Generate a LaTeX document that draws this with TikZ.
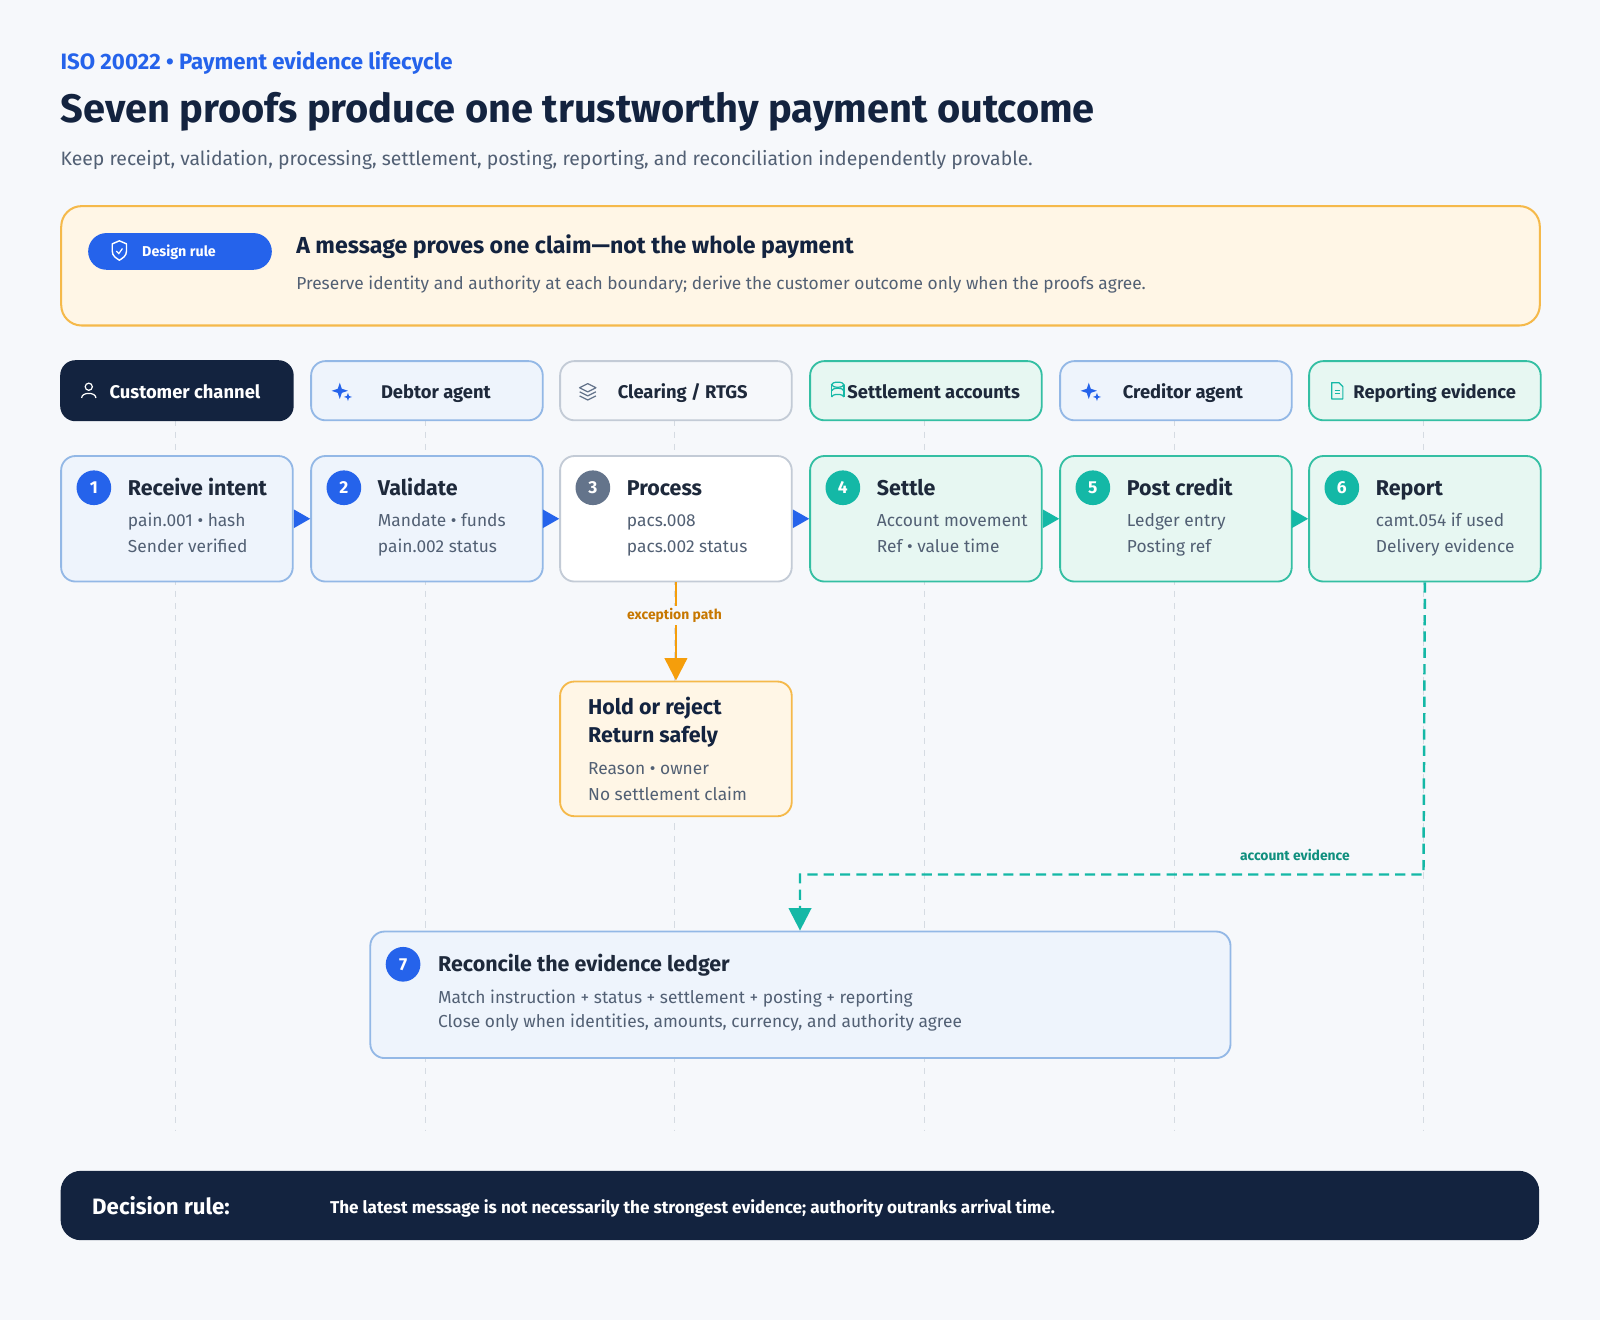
\documentclass[tikz,border=0pt]{standalone}
\usepackage{fontspec}
\setmainfont{Fira Sans}
\usetikzlibrary{arrows.meta,shapes.geometric}
\definecolor{navy}{HTML}{13233F}
\definecolor{ink}{HTML}{1E293B}
\definecolor{muted}{HTML}{526074}
\definecolor{blueA}{HTML}{2563EB}
\definecolor{blueF}{HTML}{EEF4FC}
\definecolor{blueB}{HTML}{93B8E6}
\definecolor{grayB}{HTML}{C3CBD6}
\definecolor{grayC}{HTML}{64748B}
\definecolor{tealF}{HTML}{E7F7F2}
\definecolor{tealB}{HTML}{34BFA3}
\definecolor{tealA}{HTML}{14B8A6}
\definecolor{tealD}{HTML}{0F8F7E}
\definecolor{amberF}{HTML}{FFF6E6}
\definecolor{amberB}{HTML}{F5B94A}
\definecolor{amberA}{HTML}{F59E0B}
\definecolor{amberT}{HTML}{C77700}
\definecolor{bg}{HTML}{F6F8FB}
\tikzset{x=0.5pt,y=-0.5pt,every node/.style={inner sep=0},
 box/.style={draw,rounded corners=7pt,line width=0.9pt,anchor=north west,minimum width=113.5pt,inner sep=0},
 hdr/.style={box,minimum height=29pt},
 stepbox/.style={box,minimum height=61.5pt},
 bluebox/.style={fill=blueF,draw=blueB},
 graybox/.style={fill=white,draw=grayB},
 tealbox/.style={fill=tealF,draw=tealB},
 hdrtxt/.style={font=\bfseries\fontsize{9}{11}\selectfont,text=ink,anchor=base west},
 num/.style={circle,minimum size=17pt,inner sep=0,text=white,font=\bfseries\fontsize{8.5}{10}\selectfont},
 sttl/.style={font=\bfseries\fontsize{10.5}{12}\selectfont,text=ink,anchor=base west},
 sl/.style={font=\fontsize{8.5}{10}\selectfont,text=muted,anchor=base west},
 lane/.style={draw=grayB!70,dash pattern=on 3pt off 3pt,line width=0.6pt},
 tip/.style={-{Triangle[length=8pt,width=9pt]},line width=0.5pt},
}
\begin{document}
\begin{tikzpicture}
\fill[bg] (0,0) rectangle (1568,1294);
\useasboundingbox (0,0) rectangle (1568,1294);
% titles
\node[anchor=west,text=blueA,font=\bfseries\fontsize{10.9}{13}\selectfont] (kicker) at (59,62) {ISO 20022 • Payment evidence lifecycle};
\node[anchor=west,text=navy,font=\bfseries\fontsize{19.5}{23}\selectfont] (title) at (59,110) {Seven proofs produce one trustworthy payment outcome};
\node[anchor=west,text=muted,font=\fontsize{9.5}{11}\selectfont] (sub) at (59,157) {Keep receipt, validation, processing, settlement, posting, reporting, and reconciliation independently provable.};
% design rule
\node[draw=amberB,fill=amberF,line width=1pt,rounded corners=10pt,anchor=north west,minimum width=724.5pt,minimum height=58.5pt,inner sep=0] (rule) at (59,201) {};
\node[fill=blueA,rounded corners=9pt,anchor=north west,minimum width=90pt,minimum height=18pt,inner sep=0] (pill) at (86,228) {};
\node[anchor=west,text=white,font=\bfseries\fontsize{7}{8}\selectfont] (pilltxt) at (139,247) {Design rule};
\draw[white,line width=0.7pt,line join=round] (110,239) -- (117,236) -- (124,239) -- (124,246) .. controls (124,251) and (120,253) .. (117,255) .. controls (114,253) and (110,251) .. (110,246) -- cycle;
\draw[white,line width=0.6pt] (114,246) -- (116.5,248.5) -- (120,243.5);
\node[anchor=west,text=navy,font=\bfseries\fontsize{11.35}{13}\selectfont] (ruleh) at (290,242) {A message proves one claim—not the whole payment};
\node[anchor=west,text=muted,font=\fontsize{8.5}{10}\selectfont] (rulet) at (290,279) {Preserve identity and authority at each boundary; derive the customer outcome only when the proofs agree.};
% lanes
\foreach \i/\cx in {1/172,2/417,3/661,4/906,5/1151,6/1395}{\draw[lane] (\cx,411) -- (\cx,1108);}
% headers
\node[hdr,fill=navy,draw=navy] (h1) at (59,353) {};
\node[hdr,bluebox] (h2) at (304,353) {};
\node[hdr,graybox,fill=bg] (h3) at (548,353) {};
\node[hdr,tealbox] (h4) at (793,353) {};
\node[hdr,bluebox] (h5) at (1038,353) {};
\node[hdr,tealbox] (h6) at (1282,353) {};
\node[hdrtxt,text=white] (h1t) at (107,390.5) {Customer channel};
\node[hdrtxt] (h2t) at (373,390.5) {Debtor agent};
\node[hdrtxt] (h3t) at (605,390.5) {Clearing / RTGS};
\node[hdrtxt] (h4t) at (830,390.5) {Settlement accounts};
\node[hdrtxt] (h5t) at (1100,390.5) {Creditor agent};
\node[hdrtxt] (h6t) at (1326,390.5) {Reporting evidence};
% icons
\draw[white,line width=0.6pt] (87,379) circle (3.5);
\draw[white,line width=0.6pt] (80,390) .. controls (80,384) and (94,384) .. (94,390);
\foreach \ix in {333,1067}{
 \fill[blueA] (\ix,375) -- (\ix+2,381) -- (\ix+8,383) -- (\ix+2,385) -- (\ix,391) -- (\ix-2,385) -- (\ix-8,383) -- (\ix-2,381) -- cycle;
 \fill[blueA] (\ix+8,385) -- (\ix+9,388) -- (\ix+12,389) -- (\ix+9,390) -- (\ix+8,393) -- (\ix+7,390) -- (\ix+4,389) -- (\ix+7,388) -- cycle;}
\draw[grayC,line width=0.6pt,line join=round] (576,376) -- (584,380) -- (576,384) -- (568,380) -- cycle;
\draw[grayC,line width=0.6pt,line join=round] (568,384) -- (576,388) -- (584,384);
\draw[grayC,line width=0.6pt,line join=round] (568,388) -- (576,392) -- (584,388);
\draw[tealA,line width=0.6pt] (821,377) ellipse (6 and 2.5);
\draw[tealA,line width=0.6pt] (815,377) -- (815,389) (827,377) -- (827,389);
\draw[tealA,line width=0.6pt] (815,383) arc (180:360:6 and 2.5);
\draw[tealA,line width=0.6pt] (815,389) arc (180:360:6 and 2.5);
\draw[tealA,line width=0.6pt,line join=round] (1305,375) -- (1312,375) -- (1316,379) -- (1316,391) -- (1305,391) -- cycle;
\draw[tealA,line width=0.5pt] (1308,383) -- (1313,383) (1308,386) -- (1313,386);
% steps
\node[stepbox,bluebox] (s1) at (59,446) {};
\node[stepbox,bluebox] (s2) at (304,446) {};
\node[stepbox,graybox] (s3) at (548,446) {};
\node[stepbox,tealbox] (s4) at (793,446) {};
\node[stepbox,tealbox] (s5) at (1038,446) {};
\node[stepbox,tealbox] (s6) at (1282,446) {};
\foreach \n/\x/\c/\t/\a/\b in {1/59/blueA/Receive intent/pain.001 • hash/Sender verified,
 2/304/blueA/Validate/Mandate • funds/pain.002 status,
 3/548/grayC/Process/pacs.008/pacs.002 status,
 4/793/tealA/Settle/Account movement/Ref • value time,
 5/1038/tealA/Post credit/Ledger entry/Posting ref,
 6/1282/tealA/Report/camt.054 if used/Delivery evidence}{
 \node[num,fill=\c] (n\n) at (\x+33,478) {\n};
 \node[sttl] (t\n) at (\x+66,485.5) {\t};
 \node[sl] (a\n) at (\x+66,516) {\a};
 \node[sl] (b\n) at (\x+66,541) {\b};}
\draw[tip,blueA] (s1.east) -- (s2.west);
\draw[tip,blueA] (s2.east) -- (s3.west);
\draw[tip,blueA] (s3.east) -- (s4.west);
\draw[tip,tealA] (s4.east) -- (s5.west);
\draw[tip,tealA] (s5.east) -- (s6.west);
% exception
\node[box,fill=amberF,draw=amberB,minimum height=66pt] (ex) at (548,667) {};
\node[anchor=west,text=navy,font=\bfseries\fontsize{10.5}{13.5}\selectfont,align=left] (ext) at (576,708) {Hold or reject\\Return safely};
\node[sl] (exa) at (576,759) {Reason • owner};
\node[sl] (exb) at (576,784) {No settlement claim};
\draw[amberA,line width=1.2pt,-{Triangle[length=11pt,width=11pt]}] (s3.south) -- (ex.north);
\node[fill=bg,text=amberT,font=\bfseries\fontsize{6.8}{8}\selectfont,inner sep=1pt] (exl) at (661,603) {exception path};
% reconcile
\node[box,bluebox,minimum width=421.5pt,minimum height=62pt] (rec) at (362,912) {};
\node[num,fill=blueA] (n7) at (395,945) {7};
\node[sttl] (t7) at (429,952.5) {Reconcile the evidence ledger};
\node[sl] (a7) at (429,983) {Match instruction + status + settlement + posting + reporting};
\node[sl] (b7) at (429,1007) {Close only when identities, amounts, currency, and authority agree};
\coordinate (c1) at (1395,857);
\coordinate (c2) at (784,857);
\draw[tealA,line width=1.2pt,dash pattern=on 5pt off 3pt,-{Triangle[length=11pt,width=11pt]}] (s6.south) -- (c1) -- (c2) -- (rec.north -| c2);
\node[text=tealD,font=\bfseries\fontsize{6.8}{8}\selectfont] (accl) at (1269,838) {account evidence};
% decision
\node[fill=navy,rounded corners=10pt,anchor=north west,minimum width=724.5pt,minimum height=34pt,inner sep=0] (dec) at (59,1147) {};
\node[anchor=west,text=white,font=\bfseries\fontsize{10.9}{12}\selectfont] (decl) at (90,1182) {Decision rule:};
\node[anchor=west,text=white,font=\bfseries\fontsize{8.4}{9}\selectfont] (dect) at (323,1184) {The latest message is not necessarily the strongest evidence; authority outranks arrival time.};
\end{tikzpicture}
\end{document}
